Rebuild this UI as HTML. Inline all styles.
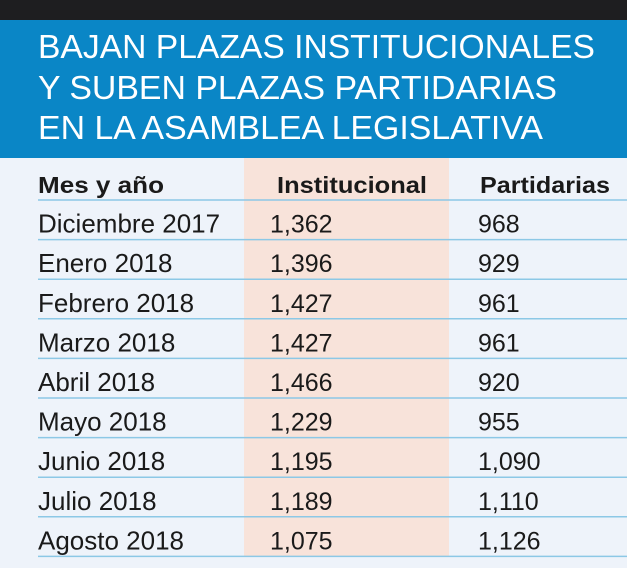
<!DOCTYPE html>
<html><head><meta charset="utf-8"><style>
html,body{margin:0;padding:0;background:#eef3fa;}
svg{display:block;font-family:"Liberation Sans",sans-serif;}
</style></head><body>
<svg width="627" height="568" viewBox="0 0 627 568">
<rect x="0" y="0" width="627" height="568" fill="#eef3fa"/>
<rect x="0" y="0" width="627" height="20" fill="#1e1e20"/>
<rect x="0" y="20" width="627" height="138" fill="#0a86c6"/>
<g fill="#ffffff" font-size="33">
<text x="38" y="58" textLength="557" lengthAdjust="spacingAndGlyphs">BAJAN PLAZAS INSTITUCIONALES</text>
<text x="38" y="99" textLength="519" lengthAdjust="spacingAndGlyphs">Y SUBEN PLAZAS PARTIDARIAS</text>
<text x="38" y="139" textLength="505" lengthAdjust="spacingAndGlyphs">EN LA ASAMBLEA LEGISLATIVA</text>
</g>
<rect x="244" y="158" width="205" height="398" fill="#f8e3da"/>
<g font-size="23" font-weight="bold" fill="#1a1a1a">
<text x="38" y="193" textLength="126" lengthAdjust="spacingAndGlyphs">Mes y año</text>
<text x="277" y="193" textLength="150" lengthAdjust="spacingAndGlyphs">Institucional</text>
<text x="480" y="193" textLength="130" lengthAdjust="spacingAndGlyphs">Partidarias</text>
</g>
<line x1="38" y1="200" x2="627" y2="200" stroke="#8cc8e6" stroke-width="1.5"/>
<g id="rows"></g>
</svg>
<script>
const months = ["Diciembre 2017","Enero 2018","Febrero 2018","Marzo 2018","Abril 2018","Mayo 2018","Junio 2018","Julio 2018","Agosto 2018"];
const institucional = ["1,362","1,396","1,427","1,427","1,466","1,229","1,195","1,189","1,075"];
const partidarias = ["968","929","961","961","920","955","1,090","1,110","1,126"];
const NS="http://www.w3.org/2000/svg";
const g=document.getElementById('rows');
const pitch=39.6;
months.forEach((m,i)=>{
  const base=200+pitch*(i+1);
  const vals=[[m,38],[institucional[i],270],[partidarias[i],478]];
  vals.forEach((v,j)=>{
    const t=document.createElementNS(NS,'text');
    t.setAttribute('x',v[1]);
    t.setAttribute('y',base-7);
    t.setAttribute('font-size', j===0 ? '26' : '25');
    t.setAttribute('fill','#1a1a1a');
    t.textContent=v[0];
    
    
    g.appendChild(t);
  });
  const l=document.createElementNS(NS,'line');
  l.setAttribute('x1','38');l.setAttribute('x2','627');
  l.setAttribute('y1',base);l.setAttribute('y2',base);
  l.setAttribute('stroke','#8cc8e6');l.setAttribute('stroke-width','1.5');
  
  
  g.appendChild(l);
});
</script>
</body></html>
